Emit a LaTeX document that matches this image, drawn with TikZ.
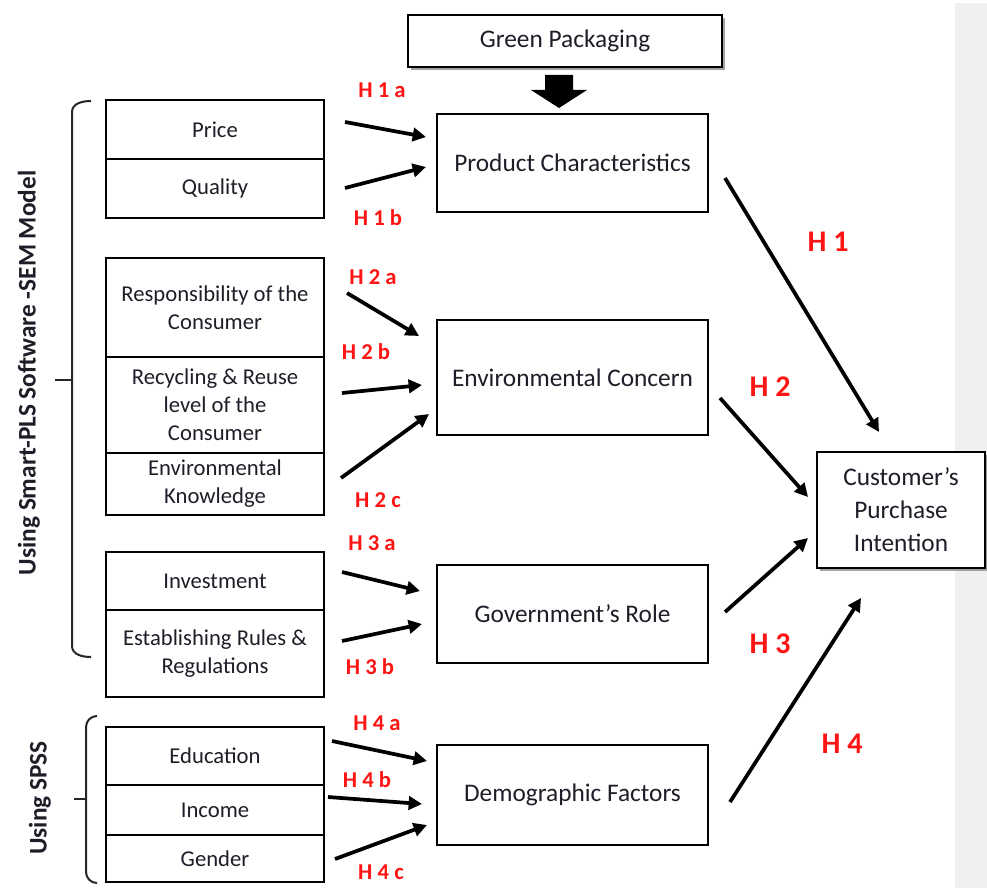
\documentclass[tikz,border=0pt]{standalone}
\usepackage{fontspec}
\setmainfont{Carlito}
\usetikzlibrary{arrows.meta,shadows}
\definecolor{txt}{HTML}{1E1E28}
\definecolor{hred}{HTML}{FF1414}
\tikzset{
  box/.style={draw, line width=2pt, inner sep=0pt, align=center, text=txt,
    font=\fontsize{17}{21}\selectfont},
  lbox/.style={box, minimum width=163.5pt},
  mbox/.style={box, minimum width=203.25pt, font=\fontsize{19}{23}\selectfont},
  sbox/.style={draw, line width=1.2pt, fill=white, inner sep=0pt, align=center, text=txt,
    font=\fontsize{19}{24.75}\selectfont,
    drop shadow={shadow xshift=2pt, shadow yshift=-2pt, fill=black!45, opacity=0.8}},
  hyp/.style={-{Triangle[length=10pt,width=10pt]}, line width=2.8pt, black},
  hsmall/.style={text=hred, font=\fontsize{17}{17}\selectfont\bfseries, inner sep=0pt},
  hbig/.style={text=hred, font=\fontsize{22.5}{22.5}\selectfont\bfseries, inner sep=0pt},
  brace/.style={line width=1.5pt, black!85},
  side/.style={text=txt, font=\fontsize{19}{19}\selectfont\bfseries, rotate=90, inner sep=0pt}
}
\begin{document}
\begin{tikzpicture}[x=0.75pt, y=-0.75pt]
\useasboundingbox (0,0) rectangle (987,888);
\fill[black!6] (955,3) rectangle (987,888);

% top box and fat arrow
\node[sbox, minimum width=235.5pt, minimum height=39pt] (gp) at (565,41) {Green Packaging};
\fill (545,75) -- (573,75) -- (573,90) -- (587,90) -- (559,108) -- (531,90) -- (545,90) -- cycle;

% left boxes
\node[lbox, minimum height=44.25pt] (price) at (215,129.5) {Price};
\node[lbox, minimum height=44.25pt] (quality) at (215,188.5) {Quality};
\node[lbox, minimum height=74.25pt] (resp) at (215,307.5) {Responsibility of the\\Consumer};
\node[lbox, minimum height=72pt] (recy) at (215,405) {Recycling \& Reuse\\level of the\\Consumer};
\node[lbox, minimum height=46.5pt] (know) at (215,484) {Environmental\\Knowledge};
\node[lbox, minimum height=43.5pt] (inv) at (215,581) {Investment};
\node[lbox, minimum height=65.25pt] (rules) at (215,653.5) {Establishing Rules \&\\Regulations};
\node[lbox, minimum height=43.5pt] (edu) at (215,756) {Education};
\node[lbox, minimum height=37.5pt] (inc) at (215,810) {Income};
\node[lbox, minimum height=35.25pt] (gen) at (215,858.5) {Gender};

% main boxes
\node[mbox, minimum height=73.5pt] (prod) at (572.5,163) {Product Characteristics};
\node[mbox, minimum height=86.25pt] (env) at (572.5,377.5) {Environmental Concern};
\node[mbox, minimum height=73.5pt] (gov) at (572.5,614) {Government’s Role};
\node[mbox, minimum height=75pt] (demo) at (572.5,795) {Demographic Factors};

% customer box
\node[sbox, minimum width=126pt, minimum height=87pt] (cust) at (901,510) {Customer’s\\Purchase\\Intention};

% brackets
\draw[brace] (91,101) to[out=180,in=90] (72,112) -- (72,646) to[out=-90,in=180] (91,657);
\draw[brace] (72,380) -- (55,380);
\draw[brace] (97,716) to[out=180,in=90] (86,727) -- (86,872) to[out=-90,in=180] (97,883);
\draw[brace] (86,799) -- (74,799);
\node[side] (sem) at (29,373) {Using Smart-PLS Software -SEM Model};
\node[side] (spss) at (40,798) {Using SPSS};

% arrow end points
\coordinate (a1s) at (345,122); \coordinate (a1e) at (426,137);
\coordinate (b1s) at (345,188); \coordinate (b1e) at (426,167);
\coordinate (a2s) at (347,293); \coordinate (a2e) at (419,336);
\coordinate (b2s) at (342,393); \coordinate (b2e) at (422,385);
\coordinate (c2s) at (341,478); \coordinate (c2e) at (429,414);
\coordinate (a3s) at (342,572); \coordinate (a3e) at (420,591);
\coordinate (b3s) at (342,641); \coordinate (b3e) at (422,624);
\coordinate (a4s) at (332,741); \coordinate (a4e) at (427,761);
\coordinate (b4s) at (328,797); \coordinate (b4e) at (422,804);
\coordinate (c4s) at (335,859); \coordinate (c4e) at (427,825);
\coordinate (h1s) at (725,178); \coordinate (h1e) at (879,432);
\coordinate (h2s) at (720,398); \coordinate (h2e) at (808,497);
\coordinate (h3s) at (725,612); \coordinate (h3e) at (808,538);
\coordinate (h4s) at (730,802); \coordinate (h4e) at (861,598);

\foreach \s/\e in {a1s/a1e,b1s/b1e,a2s/a2e,b2s/b2e,c2s/c2e,a3s/a3e,b3s/b3e,a4s/a4e,b4s/b4e,c4s/c4e,h1s/h1e,h2s/h2e,h3s/h3e,h4s/h4e}
  \draw[hyp] (\s) -- (\e);

% labels
\node[hsmall] (l1a) at (382,90) {H 1 a};
\node[hsmall] (l1b) at (378,218) {H 1 b};
\node[hsmall] (l2a) at (373,277) {H 2 a};
\node[hsmall] (l2b) at (366,352) {H 2 b};
\node[hsmall] (l2c) at (378,500) {H 2 c};
\node[hsmall] (l3a) at (372,543) {H 3 a};
\node[hsmall] (l3b) at (370,667) {H 3 b};
\node[hsmall] (l4a) at (377,723) {H 4 a};
\node[hsmall] (l4b) at (367,780) {H 4 b};
\node[hsmall] (l4c) at (381,872) {H 4 c};
\node[hbig] (l1) at (828,242) {H 1};
\node[hbig] (l2) at (770,387) {H 2};
\node[hbig] (l3) at (770,644) {H 3};
\node[hbig] (l4) at (842,744) {H 4};
\end{tikzpicture}
\end{document}
